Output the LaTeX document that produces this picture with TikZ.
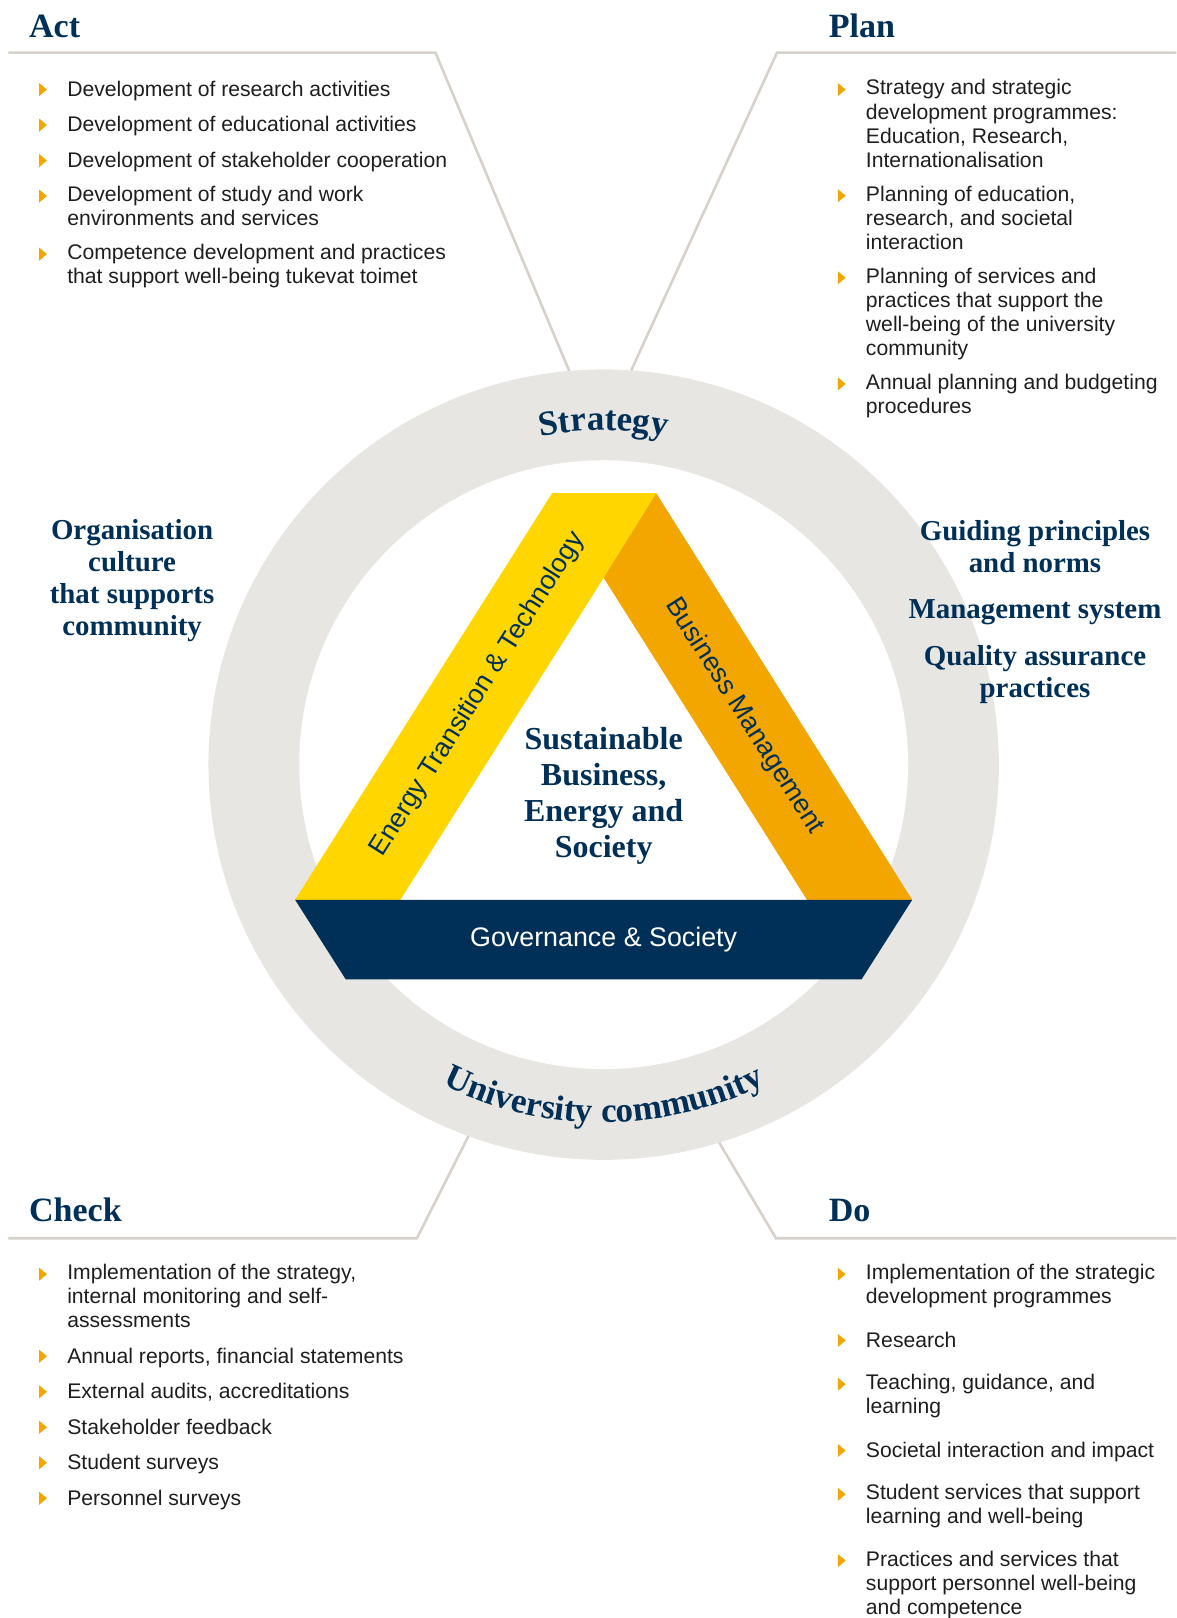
\documentclass[tikz,border=0pt]{standalone}
\usepackage{fontspec}
\setmainfont{Liberation Sans}
\newfontfamily\headfont{Liberation Serif}
\usetikzlibrary{positioning,decorations.text}

\definecolor{navy}{RGB}{0,48,87}
\definecolor{gold}{RGB}{255,214,0}
\definecolor{amber}{RGB}{243,165,0}
\definecolor{ringgray}{RGB}{232,230,226}
\definecolor{rulegray}{RGB}{214,209,202}
\definecolor{ink}{RGB}{30,30,30}

\newcommand{\arcfont}{\headfont\bfseries\fontsize{34}{34}\selectfont}

\tikzset{
  heading/.style={anchor=base west, inner sep=0pt, text=navy, font=\headfont\bfseries\fontsize{33}{33}\selectfont},
  entry/.style={anchor=north west, inner sep=0pt, align=left, text=ink, font=\fontsize{20.5}{23.3}\selectfont,
    execute at begin node=\strut, execute at end node=\strut},
  follows/.style={below=10.7pt of #1.south west, anchor=north west},
  followswide/.style={below=18.7pt of #1.south west, anchor=north west},
  claim/.style={inner sep=0pt, align=center, text=navy, font=\headfont\bfseries\fontsize{28}{31}\selectfont},
  core/.style={inner sep=0pt, align=center, text=navy, font=\headfont\bfseries\fontsize{31}{35}\selectfont},
  pillar/.style={inner sep=0pt, text=navy, font=\fontsize{26}{26}\selectfont},
  rule/.style={draw=rulegray, line width=2.5pt},
}

\begin{document}
\begin{tikzpicture}[x=1pt, y=1pt]
    \useasboundingbox (0,0) rectangle (1140,-1568);

    % ring
    \node[circle, fill=ringgray, minimum size=766pt, inner sep=0pt, outer sep=0pt] (ring) at (585,-741) {};
    \node[circle, fill=white, minimum size=590pt, inner sep=0pt, outer sep=0pt] (hub) at (ring.center) {};

    % separator lines
    \coordinate (actL) at (8,-51);
    \coordinate (actK) at (422,-51);
    \coordinate (planR) at (1140,-51);
    \coordinate (planK) at (753,-51);
    \coordinate (checkL) at (8,-1200);
    \coordinate (checkK) at (404,-1200);
    \coordinate (doR) at (1140,-1200);
    \coordinate (doK) at (752,-1200);
    \draw[rule] (actL) -- (actK) -- (ring.95);
    \draw[rule] (planR) -- (planK) -- (ring.86);
    \draw[rule] (checkL) -- (checkK) -- (ring.250);
    \draw[rule] (doR) -- (doK) -- (ring.287);

    % triangle
    \coordinate (tl) at (535,-478);
    \coordinate (tr) at (636,-478);
    \coordinate (ia) at (585,-560);
    \coordinate (bl) at (286,-872);
    \coordinate (yb) at (388,-872);
    \coordinate (ob) at (782,-872);
    \coordinate (br) at (884,-872);
    \coordinate (nl) at (335,-949);
    \coordinate (nr) at (835,-949);
    \fill[gold] (tl) -- (tr) -- (ia) -- (yb) -- (bl) -- cycle;
    \fill[amber] (tr) -- (br) -- (ob) -- (ia) -- cycle;
    \fill[navy] (bl) -- (br) -- (nr) -- (nl) -- cycle;

    \node[pillar, rotate=57.7] (ett) at (463,-673) {Energy Transition \& Technology};
    \node[pillar, rotate=-57.7] (bm) at (721,-694) {Business Management};
    \node[pillar, text=white] (gs) at (585,-911) {Governance \& Society};
    \node[core] (sbes) at (585,-771) {Sustainable\\Business,\\Energy and\\Society};

    % ring texts
    \path[decorate, decoration={text along path, text align=center, text color=navy,
        text={|\arcfont|Strategy}}]
        ([shift={(110:324)}]ring.center) arc[start angle=110, end angle=70, radius=324];
    \path[decorate, decoration={text along path, text align=center, text color=navy,
        text={|\arcfont|University community}}]
        ([shift={(215:347)}]ring.center) arc[start angle=215, end angle=325, radius=347];

    \node[claim] (culture) at (128,-563) {Organisation\\culture\\that supports\\community};
    \node[claim] (norms) at (1003,-530) {Guiding principles\\and norms};
    \node[claim] (msys) at (1003,-593) {Management system};
    \node[claim] (qa) at (1003,-654) {Quality assurance\\practices};

    % Act
    \node[heading] (act) at (28,-36) {Act};
    \node[entry] (a1) at (65,-77) {Development of research activities};
    \node[entry, follows=a1] (a2) {Development of educational activities};
    \node[entry, follows=a2] (a3) {Development of stakeholder cooperation};
    \node[entry, follows=a3] (a4) {Development of study and work\\environments and services};
    \node[entry, follows=a4] (a5) {Competence development and practices\\that support well-being tukevat toimet};

    % Plan
    \node[heading] (plan) at (803,-36) {Plan};
    \node[entry] (p1) at (839,-77) {Strategy and strategic\\development programmes:\\Education, Research,\\Internationalisation};
    \node[entry, follows=p1] (p2) {Planning of education,\\research, and societal\\interaction};
    \node[entry, follows=p2] (p3) {Planning of services and\\practices that support the\\well-being of the university\\community};
    \node[entry, follows=p3] (p4) {Annual planning and budgeting\\procedures};

    % Check
    \node[heading] (check) at (28,-1184) {Check};
    \node[entry] (c1) at (65,-1225) {Implementation of the strategy,\\internal monitoring and self-\\assessments};
    \node[entry, follows=c1] (c2) {Annual reports, financial statements};
    \node[entry, follows=c2] (c3) {External audits, accreditations};
    \node[entry, follows=c3] (c4) {Stakeholder feedback};
    \node[entry, follows=c4] (c5) {Student surveys};
    \node[entry, follows=c5] (c6) {Personnel surveys};

    % Do
    \node[heading] (do) at (803,-1184) {Do};
    \node[entry] (d1) at (839,-1225) {Implementation of the strategic\\development programmes};
    \node[entry, followswide=d1] (d2) {Research};
    \node[entry, followswide=d2] (d3) {Teaching, guidance, and\\learning};
    \node[entry, followswide=d3] (d4) {Societal interaction and impact};
    \node[entry, followswide=d4] (d5) {Student services that support\\learning and well-being};
    \node[entry, followswide=d5] (d6) {Practices and services that\\support personnel well-being\\and competence};

    % bullets
    \foreach \n in {a1,a2,a3,a4,a5,p1,p2,p3,p4,c1,c2,c3,c4,c5,c6,d1,d2,d3,d4,d5,d6}
        \fill[amber] ([shift={(-27,-3.5)}]\n.north west) -- ++(7.5,-6.3) -- ++(-7.5,-6.3) -- cycle;
\end{tikzpicture}
\end{document}
